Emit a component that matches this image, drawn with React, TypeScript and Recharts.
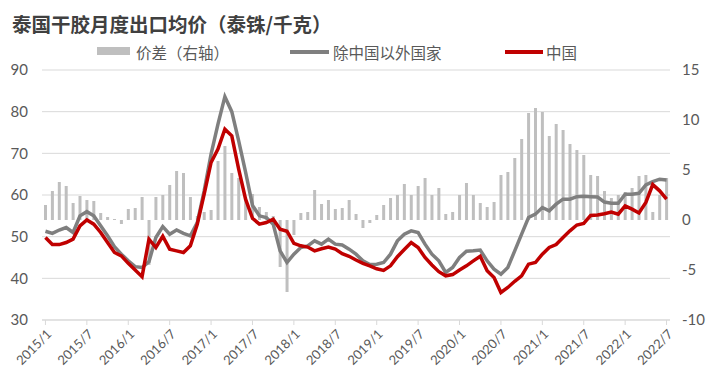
import {
  ComposedChart,
  Bar,
  Line,
  XAxis,
  YAxis,
  CartesianGrid,
} from "recharts";

// month labels 2015/1 .. 2022/7
const months: string[] = [];
for (let y = 2015; y <= 2022; y++) {
  for (let m = 1; m <= 12; m++) {
    if (y === 2022 && m > 7) break;
    months.push(`${y}/${m}`);
  }
}

// 价差（右轴）
const spread = [
  1.5, 2.9, 3.8, 3.4, 1.7, 2.4, 2.0, 1.9, 0.7, 0.3, 0.1, -0.4,
  1.1, 1.2, 2.3, -4.5, 2.3, 2.5, 3.5, 4.9, 4.7, 2.3, 0.4, 0.8,
  1.0, 5.9, 7.4, 4.7, 4.2, 2.3, 2.6, 1.3, 0.8, 0.4, -4.7, -7.2,
  -1.5, 0.7, 0.8, 3.0, 1.6, 2.0, 1.1, 1.2, 2.0, 0.6, -0.8, -0.3,
  0.5, 1.5, 2.2, 2.5, 3.6, 2.5, 3.4, 4.2, 2.5, 3.2, 0.6, 0.8,
  2.5, 3.7, 2.5, 1.7, 1.3, 1.8, 4.5, 4.8, 6.2, 8.1, 10.7, 11.2,
  10.8, 8.4, 9.6, 9.0, 7.6, 7.0, 6.5, 4.5, 4.4, 2.9, 2.2, 2.5,
  2.8, 3.2, 4.4, 4.5, 0.8, 2.5, 4.2,
];

// 除中国以外国家
const others = [
  51.3, 50.8, 51.6, 52.2, 51.0, 55.0, 56.0, 55.0, 52.6, 50.2, 47.6, 45.8,
  44.2, 42.8, 42.6, 44.0, 49.8, 52.4, 50.6, 51.6, 50.8, 50.2, 53.4, 61.0,
  69.8, 77.0, 83.6, 80.0, 73.0, 65.5, 57.5, 55.0, 54.6, 53.0, 46.6, 43.8,
  45.8, 47.4, 47.8, 49.0, 48.2, 49.4, 48.2, 48.0, 47.0, 45.8, 44.2, 43.3,
  43.4, 43.8, 45.8, 49.0, 50.6, 51.4, 51.0, 48.2, 45.8, 44.2, 41.4, 42.6,
  45.0, 46.5, 46.6, 46.8, 44.2, 42.2, 41.0, 42.6, 46.6, 50.6, 54.6, 55.4,
  57.0, 56.2, 57.8, 59.0, 59.0, 59.6, 59.7, 59.6, 59.5, 58.3, 58.0, 58.0,
  60.2, 60.2, 60.4, 62.4, 63.2, 63.8, 63.6,
];

// 中国
const china = [
  49.8, 48.1, 48.1, 48.6, 49.4, 52.6, 54.0, 53.0, 51.0, 48.6, 46.2, 45.4,
  43.6, 42.0, 40.4, 49.4, 47.4, 50.1, 47.0, 46.6, 46.2, 47.8, 53.0, 60.2,
  67.8, 71.0, 75.8, 74.2, 66.2, 59.0, 54.4, 53.0, 53.4, 54.2, 51.8, 51.3,
  48.4, 47.8, 47.5, 46.6, 47.1, 47.5, 47.0, 45.9, 45.3, 44.4, 43.6, 43.0,
  42.3, 41.9, 43.0, 45.2, 46.9, 48.6, 47.4, 45.0, 43.2, 41.6, 40.6, 40.9,
  42.0, 43.0, 44.2, 45.3, 41.8, 40.2, 36.6, 37.8, 39.3, 40.6, 43.4, 43.8,
  45.8, 47.4, 48.1, 49.8, 51.4, 52.8, 53.2, 55.1, 55.2, 55.5, 55.9, 55.4,
  57.4, 56.6, 55.7, 58.2, 62.5, 61.0, 59.0,
];

const leftTicks = [30, 40, 50, 60, 70, 80, 90];
const rightTicks = [-10, -5, 0, 5, 10, 15];

const data = months.map((month, i) => ({
  month,
  spread: spread[i],
  others: others[i],
  china: china[i],
}));

const numFont = "Lato, 'Noto Sans', sans-serif";
const cjkFont = "'Noto Sans CJK SC', 'Noto Sans', sans-serif";

const DateTick = ({ x, y, payload }: any) => {
  const px = x + 7;
  const py = y + 8;
  return (
    <text
      x={px}
      y={py}
      transform={`rotate(-45, ${px}, ${py})`}
      textAnchor="end"
      fontSize={13}
      fill="#595959"
      fontFamily={numFont}
    >
      {payload.value}
    </text>
  );
};

const legendText = {
  position: "absolute" as const,
  top: 44,
  fontFamily: cjkFont,
  fontSize: 15.5,
  lineHeight: "16px",
  color: "#595959",
  whiteSpace: "nowrap" as const,
};

export default function App() {
  return (
    <div
      style={{
        position: "absolute",
        left: 0,
        top: 0,
        width: 714,
        height: 387,
        background: "#fff",
      }}
    >
      <ComposedChart
        width={714}
        height={387}
        data={data}
        margin={{ top: 70, right: 0, bottom: 7, left: 0 }}
      >
        <CartesianGrid vertical={false} stroke="#d9d9d9" />
        <XAxis
          dataKey="month"
          interval={5}
          height={60}
          tick={<DateTick />}
          tickSize={5}
          tickMargin={2}
          tickLine={{ stroke: "#d9d9d9" }}
          axisLine={{ stroke: "#d9d9d9" }}
        />
        <YAxis
          domain={[30, 90]}
          ticks={leftTicks}
          width={42}
          tickSize={0}
          tickMargin={14}
          axisLine={false}
          tickLine={false}
          tick={{ fontSize: 15, fill: "#595959", fontFamily: numFont }}
        />
        <YAxis
          yAxisId="right"
          orientation="right"
          domain={[-10, 15]}
          ticks={rightTicks}
          width={44}
          tickSize={0}
          tickMargin={12}
          axisLine={false}
          tickLine={false}
          tick={{ fontSize: 15, fill: "#595959", fontFamily: numFont }}
        />
        <Bar
          yAxisId="right"
          dataKey="spread"
          fill="#bfbfbf"
          barSize={3}
          isAnimationActive={false}
        />
        <Line
          dataKey="others"
          stroke="#7f7f7f"
          strokeWidth={3.5}
          dot={false}
          type="linear"
          isAnimationActive={false}
        />
        <Line
          dataKey="china"
          stroke="#c00000"
          strokeWidth={3.5}
          dot={false}
          type="linear"
          isAnimationActive={false}
        />
      </ComposedChart>

      <div
        style={{
          position: "absolute",
          left: 12,
          top: 14,
          fontFamily: cjkFont,
          fontWeight: 700,
          fontSize: 19.5,
          lineHeight: "20px",
          color: "#404040",
          whiteSpace: "nowrap",
        }}
      >
        泰国干胶月度出口均价（泰铢/千克）
      </div>

      <div
        style={{
          position: "absolute",
          left: 97,
          top: 47,
          width: 33,
          height: 8,
          background: "#bfbfbf",
        }}
      />
      <div style={{ ...legendText, left: 136 }}>价差（右轴）</div>
      <div
        style={{
          position: "absolute",
          left: 290,
          top: 50,
          width: 39,
          height: 3.5,
          background: "#7f7f7f",
        }}
      />
      <div style={{ ...legendText, left: 333 }}>除中国以外国家</div>
      <div
        style={{
          position: "absolute",
          left: 505,
          top: 50,
          width: 38,
          height: 3.5,
          background: "#c00000",
        }}
      />
      <div style={{ ...legendText, left: 546 }}>中国</div>
    </div>
  );
}
